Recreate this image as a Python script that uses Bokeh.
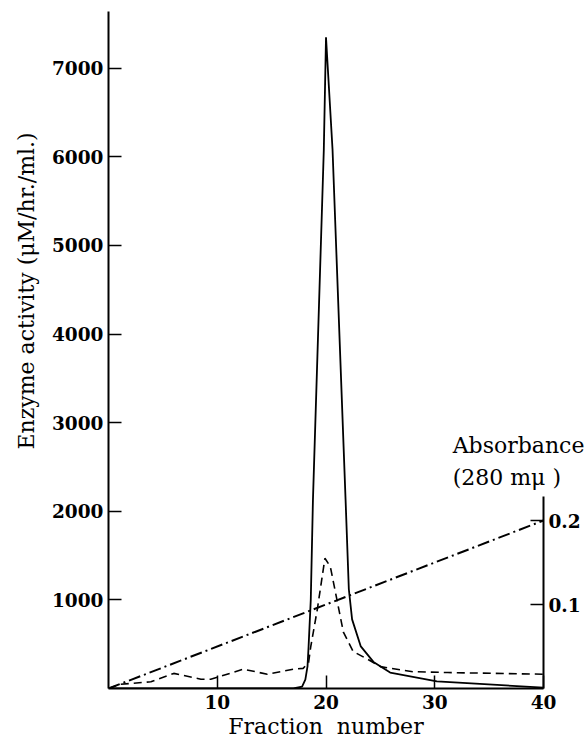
import numpy as np
from bokeh.plotting import figure
from bokeh.models import Range1d, LinearAxis, FixedTicker, Title
from bokeh.embed import file_html
from bokeh.resources import INLINE

# Enzyme activity (uM/hr./ml.) vs fraction number (solid line)
act_x = [0, 17.0, 17.8, 18.1, 18.3, 18.4, 18.6, 18.8, 19.8, 20.0, 20.6, 21.8, 22.1, 22.4, 23.2, 24.4, 25.9, 30.2, 40]
act_y = [0, 0, 20, 100, 250, 475, 1000, 2130, 6085, 7350, 6085, 2130, 1120, 780, 475, 295, 180, 80, 10]

# Absorbance at 280 m-mu (dashed line)
abs_x = [0, 1.1, 3.9, 6.0, 8.5, 9.4, 12.4, 14.6, 17.0, 17.9, 18.4, 18.6, 19.2, 19.9, 20.4, 21.0, 21.6, 22.5, 23.8, 25.0, 28.0, 31.2, 40]
abs_y = [0, 0.005, 0.008, 0.018, 0.011, 0.011, 0.023, 0.017, 0.023, 0.024, 0.031, 0.050, 0.094, 0.155, 0.145, 0.106, 0.067, 0.044, 0.035, 0.026, 0.020, 0.019, 0.017]

# Gradient (dash-dot line)
grad_x = [0, 40]
grad_y = [0, 0.2]

x_ticks = [10, 20, 30, 40]
act_ticks = [1000, 2000, 3000, 4000, 5000, 6000, 7000]
abs_ticks = [0.1, 0.2]

FONT = "DejaVu Serif"

p = figure(width=587, height=745, output_backend="svg", toolbar_location=None,
           x_range=Range1d(0, 40), y_range=Range1d(0, 7640),
           min_border_left=108, min_border_right=44, min_border_top=11, min_border_bottom=57)
p.extra_y_ranges = {"abs": Range1d(0, 0.806)}
p.grid.visible = False
p.outline_line_color = None
p.background_fill_color = "white"
p.border_fill_color = "white"

def style_axis(ax):
    ax.axis_line_color = "black"
    ax.axis_line_width = 2
    ax.major_tick_line_color = "black"
    ax.major_tick_line_width = 1.5
    ax.major_tick_in = 13
    ax.major_tick_out = 0
    ax.minor_tick_line_color = None
    ax.major_label_text_font = FONT
    ax.major_label_text_font_size = "18.5px"
    ax.major_label_text_font_style = "bold"
    ax.major_label_text_color = "black"
    ax.major_label_standoff = 5

p.xaxis.ticker = FixedTicker(ticks=x_ticks)
p.yaxis.ticker = FixedTicker(ticks=act_ticks)
style_axis(p.xaxis[0])
style_axis(p.yaxis[0])
p.xaxis.major_label_standoff = 6
p.xaxis.axis_label = "Fraction\u00a0\u00a0number"
p.xaxis.axis_label_text_font = FONT
p.xaxis.axis_label_text_font_size = "22px"
p.xaxis.axis_label_text_font_style = "normal"
p.xaxis.axis_label_text_color = "black"
p.xaxis.axis_label_standoff = 2

rax = LinearAxis(y_range_name="abs", ticker=FixedTicker(ticks=abs_ticks), bounds=(0, 0.229))
style_axis(rax)
rax.axis_label = "\n" * 7 + "Absorbance\n(280 m\u03bc )"
rax.axis_label_orientation = "horizontal"
rax.axis_label_standoff = -131
rax.axis_label_text_font = FONT
rax.axis_label_text_font_size = "22px"
rax.axis_label_text_font_style = "normal"
rax.axis_label_text_color = "black"
rax.axis_label_text_line_height = 1.27
p.add_layout(rax, "right")

p.line(act_x, act_y, line_color="black", line_width=1.8)
p.line(abs_x, abs_y, y_range_name="abs", line_color="black", line_width=1.6, line_dash="8 5")
p.line(grad_x, grad_y, y_range_name="abs", line_color="black", line_width=2, line_dash="12 4 2 4")

p.add_layout(Title(text="Enzyme activity (\u03bcM/hr./ml.)", align="left", offset=239, standoff=22,
                   text_font=FONT, text_font_size="22px", text_font_style="normal",
                   text_color="black"), "left")

open("out.html", "w").write(file_html(p, INLINE))
